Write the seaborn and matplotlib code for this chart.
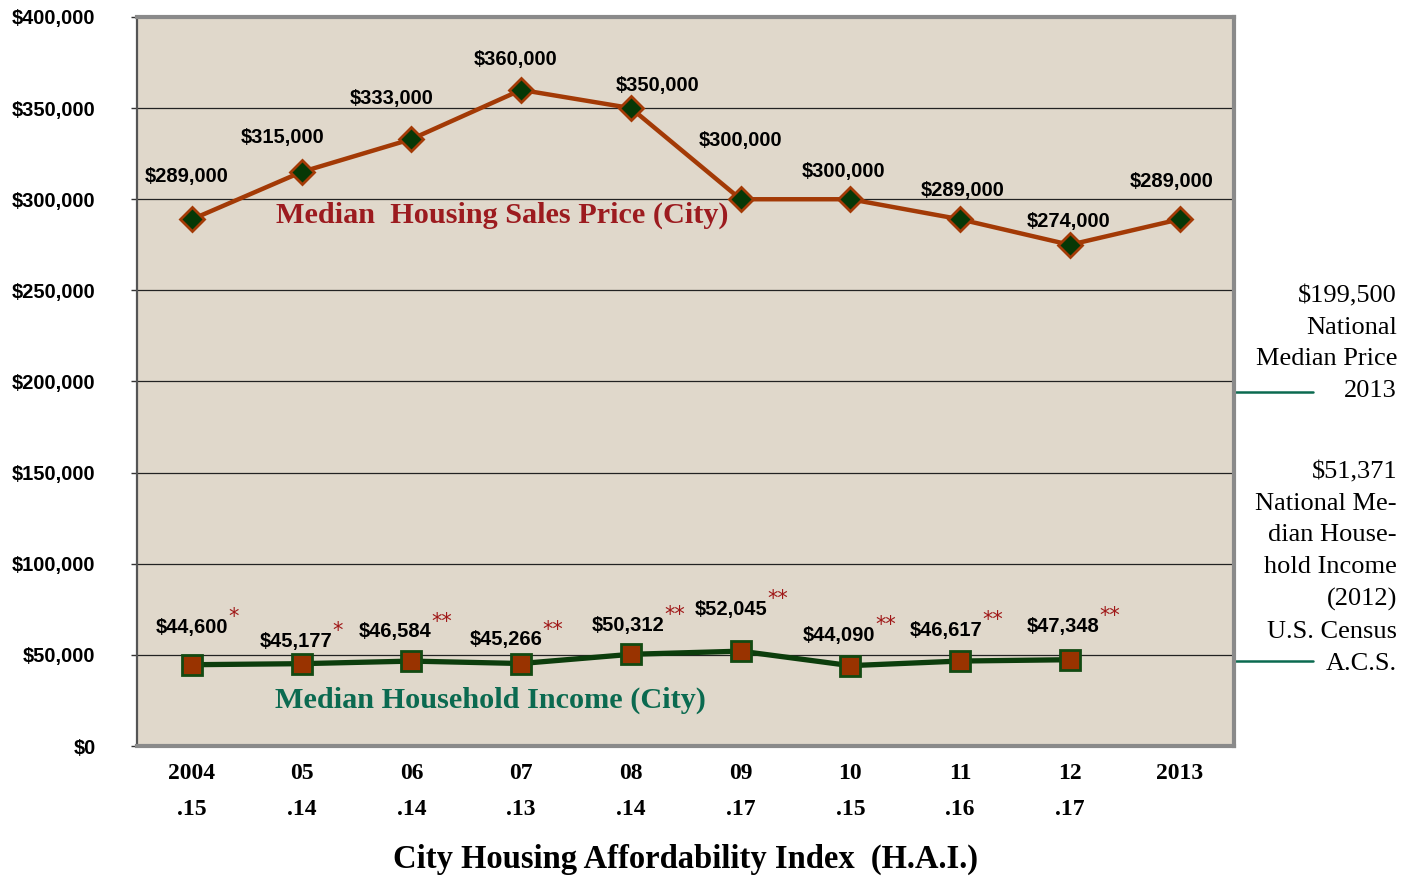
import numpy as np
import pandas as pd
import matplotlib
matplotlib.use("Agg")
import matplotlib.pyplot as plt
import matplotlib.transforms as mtransforms
import seaborn as sns

# data
years = ["2004", "05", "06", "07", "08", "09", "10", "11", "12", "2013"]
hai = [".15", ".14", ".14", ".13", ".14", ".17", ".15", ".16", ".17", ""]
house_price = [289000, 315000, 333000, 360000, 350000, 300000, 300000, 289000, 275000, 289000]
house_labels = ["$289,000", "$315,000", "$333,000", "$360,000", "$350,000",
                "$300,000", "$300,000", "$289,000", "$274,000", "$289,000"]
income = [44600, 45177, 46584, 45266, 50312, 52045, 44090, 46617, 47348]
income_labels = ["$44,600", "$45,177", "$46,584", "$45,266", "$50,312",
                 "$52,045", "$44,090", "$46,617", "$47,348"]
income_stars = ["*", "*", "**", "**", "**", "**", "**", "**", "**"]
nat_price = 199500
nat_income = 51371
nat_price_text = "$199,500\nNational\nMedian Price\n2013"
nat_income_text = "$51,371\nNational Me-\ndian House-\nhold Income\n(2012)\nU.S. Census\nA.C.S."

# label offsets in points (dx, dy) above each marker
house_off = [(-4, 31), (-14, 25), (-14, 29), (-4, 22), (19, 16), (0, 42), (-5, 20), (2, 21), (-1, 17), (-6, 27)]
income_off = [(0, 27), (-4, 16), (-12, 21), (-11, 17), (-2, 21), (-7, 30), (-8, 22), (-10, 22), (-5, 24)]

RUST = "#a33a06"
DKGREEN = "#0c3d0c"
TEAL = "#0b6a50"
DKRED = "#9c1b1f"
BG = "#e0d8cb"

sns.set_style("white")
plt.rcParams["font.family"] = ["Liberation Sans", "DejaVu Sans"]
plt.rcParams["text.color"] = "black"
plt.rcParams["xtick.color"] = "black"
plt.rcParams["ytick.color"] = "black"
plt.rcParams["axes.labelcolor"] = "black"

fig = plt.figure(figsize=(14.14, 8.76), dpi=100)
ax = fig.add_axes([0.097, 0.1484, 0.776, 0.8322])
ax.set_facecolor(BG)

xs = np.arange(len(years))
df_house = pd.DataFrame({"x": xs, "price": house_price})
df_inc = pd.DataFrame({"x": xs[:len(income)], "income": income})

sns.lineplot(data=df_house, x="x", y="price", ax=ax, color=RUST, lw=3.2,
             marker="D", markersize=12, markerfacecolor="#063806",
             markeredgecolor=RUST, markeredgewidth=2, zorder=4)
sns.lineplot(data=df_inc, x="x", y="income", ax=ax, color=DKGREEN, lw=3.8,
             marker="s", markersize=14, markerfacecolor="#993300",
             markeredgecolor="#124a12", markeredgewidth=2, zorder=4)

ax.set_xlim(-0.5, len(years) - 0.5)
ax.set_ylim(0, 400000)
ax.set_yticks(np.arange(0, 400001, 50000))
ax.set_yticklabels(["${:,.0f}".format(v) for v in ax.get_yticks()],
                   fontsize=14.5, fontweight="bold")
ax.tick_params(axis="y", length=4, width=1, color="#333333", left=True, pad=26)
ax.yaxis.grid(True, color="#222222", lw=0.9)
ax.set_axisbelow(True)

ax.set_xticks(xs)
ax.set_xticklabels([f"{y}\n{h}" for y, h in zip(years, hai)],
                   fontsize=17, fontweight="bold", family="Liberation Serif",
                   linespacing=1.95)
ax.tick_params(axis="x", length=0, pad=12)
ax.set_xlabel("City Housing Affordability Index  (H.A.I.)", fontsize=23.5,
              fontweight="bold", family="Liberation Serif", labelpad=17)
ax.set_ylabel("")

for side in ["top", "right", "bottom"]:
    ax.spines[side].set_color("#8a8a8a")
    ax.spines[side].set_linewidth(3)
ax.spines["left"].set_color("#555555")
ax.spines["left"].set_linewidth(1.6)

# value labels
for x, y, t, (dx, dy) in zip(xs, house_price, house_labels, house_off):
    ax.annotate(t, (x, y), xytext=(dx, dy), textcoords="offset points",
                ha="center", va="center", fontsize=14.5, fontweight="bold", zorder=5)

for x, y, t, s, (dx, dy) in zip(xs, income, income_labels, income_stars, income_off):
    lab = ax.annotate(t, (x, y), xytext=(dx, dy), textcoords="offset points",
                      ha="center", va="center", fontsize=14.5, fontweight="bold", zorder=5)
    ax.annotate(s, xy=(1.0, 0.5), xycoords=lab, ha="left", va="bottom",
                color="#a01818", fontsize=15, family="DejaVu Sans", zorder=5)

# series names
ax.text(0.767, 291000, "Median  Housing Sales Price (City)", color=DKRED,
        fontsize=21.8, fontweight="bold", family="Liberation Serif", va="center", ha="left")
ax.text(0.758, 25000, "Median Household Income (City)", color=TEAL,
        fontsize=21.8, fontweight="bold", family="Liberation Serif", va="center", ha="left")

# national reference marks on the right
trans = mtransforms.blended_transform_factory(ax.transAxes, ax.transData)
for v in [nat_price, nat_income]:
    ax.plot([1.0, 1.072], [v - 5000, v - 5000], transform=trans, color=TEAL,
            lw=1.8, clip_on=False)
fig.text(0.988, 1 - 285 / 876, nat_price_text, ha="right", va="top",
         fontsize=19, family="Liberation Serif", linespacing=1.57)
fig.text(0.988, 1 - 461 / 876, nat_income_text, ha="right", va="top",
         fontsize=19, family="Liberation Serif", linespacing=1.57)

fig.savefig("out.png", dpi=100)
